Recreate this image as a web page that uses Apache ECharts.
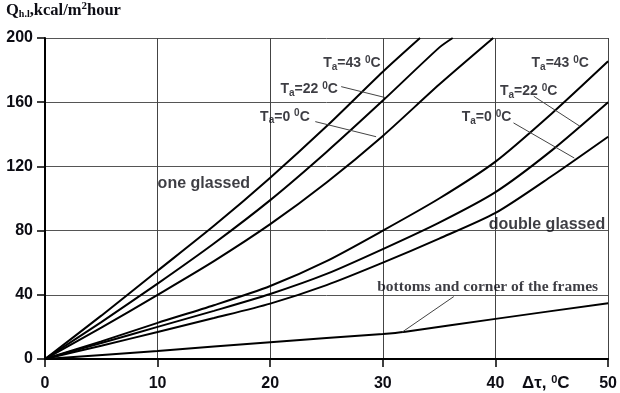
<!DOCTYPE html>
<html>
<head>
<meta charset="utf-8">
<script src="https://cdn.jsdelivr.net/npm/echarts@6/dist/echarts.min.js"></script>
<style>
html,body{margin:0;padding:0;background:#fff;}
#chart{width:620px;height:393px;}
</style>
</head>
<body>
<div id="chart"></div>
<script>
// ---- data ----
const xTicks = [0, 10, 20, 30, 40, 50];
const yTicks = [0, 40, 80, 120, 160, 200];

// one glassed
const oneX43 = [0, 5, 10, 15, 20, 25, 30, 33.3];
const oneY43 = [0, 27, 55, 83, 113, 145, 179, 200];
const oneX22 = [0, 5, 10, 15, 20, 25, 30, 35, 36.2];
const oneY22 = [0, 23, 47, 72, 99, 129, 161, 194, 200];
const oneX0 = [0, 5, 10, 15, 20, 25, 30, 35, 39.8];
const oneY0 = [0, 19.5, 40, 61, 84, 110, 139, 171, 200];

// double glassed
const dblX = [0, 5, 10, 15, 20, 25, 30, 35, 40, 45, 50];
const dblY43 = [0, 11, 22.5, 33.5, 45.5, 61, 80, 100, 123, 153, 185.5];
const dblY22 = [0, 10, 20, 30, 40.5, 53, 68.5, 85, 104, 130, 160];
const dblY0 = [0, 8.3, 16.8, 25.5, 34.5, 46, 60, 75, 91, 114, 138.5];

// bottoms and corner of the frames
const botX = [0, 10, 20, 30, 32, 40, 50];
const botY = [0, 5, 10.5, 15.6, 17, 25, 34.8];

// annotation texts
const tempLabels = ['43', '22', '0'];
const groupLabels = ['one glassed', 'double glassed', 'bottoms and corner of the frames'];

// ---- annotation placement (data coordinates) ----
const oneLabelPos = [[24.7, 184.1], [20.9, 167.9], [19.1, 151.0]];
const dblLabelPos = [[43.2, 184.1], [40.4, 166.6], [37.0, 150.4]];
const groupLabelPos = [[10.0, 109.2], [39.4, 83.6], [29.5, 44.9]];
const pointers = [
  [[26.3, 169.7], [30.2, 162.9]],
  [[24.0, 147.9], [29.4, 138.5]],
  [[43.4, 163.7], [47.5, 145.0]],
  [[41.6, 147.1], [47.0, 125.2]],
  [[36.3, 38.9], [31.7, 16.7]]
];

const SANS = 'Liberation Sans, Arial, sans-serif';
const SERIF = 'Liberation Serif, Times New Roman, serif';
const TXT = '#0d0d14';

function zip(xs, ys) { return xs.map((x, i) => [x, ys[i]]); }
function taText(t) { return '{t|T}{s|a}{t|=' + t + ' }{p|0}{t|C}'; }

const taRich = {
  t: {fontSize: 14, fontFamily: SANS, fontWeight: 'bold', color: TXT, lineHeight: 18},
  s: {fontSize: 10, fontFamily: SANS, fontWeight: 'bold', color: TXT, padding: [7, 0, 0, 0]},
  p: {fontSize: 10, fontFamily: SANS, fontWeight: 'bold', color: TXT, padding: [0, 0, 7, 0]}
};

function curve(name, data) {
  return {
    name: name, type: 'line', data: data, showSymbol: false, symbol: 'none',
    smooth: 0.25, clip: true,
    lineStyle: {color: '#000', width: 2}, silent: true
  };
}

const annData = [];
oneLabelPos.forEach((p, i) => annData.push({value: p, label: {formatter: taText(tempLabels[i]), rich: taRich}}));
dblLabelPos.forEach((p, i) => annData.push({value: p, label: {formatter: taText(tempLabels[i]), rich: taRich}}));
annData.push({value: groupLabelPos[0], label: {formatter: groupLabels[0], fontFamily: SANS, fontWeight: 'bold', fontSize: 16, color: TXT}});
annData.push({value: groupLabelPos[1], label: {formatter: groupLabels[1], fontFamily: SANS, fontWeight: 'bold', fontSize: 16, color: TXT}});
annData.push({value: groupLabelPos[2], label: {formatter: groupLabels[2], fontFamily: SERIF, fontWeight: 'bold', fontSize: 15.5, color: TXT}});

const chart = echarts.init(document.getElementById('chart'), null, {renderer: 'canvas'});
chart.setOption({
  animation: false,
  backgroundColor: '#fff',
  grid: {left: 45, right: 8, top: 38, bottom: 34, containLabel: false},
  xAxis: {
    type: 'value', min: 0, max: 50, interval: 10,
    axisLine: {show: true, onZero: false, lineStyle: {color: '#000', width: 2}},
    axisTick: {show: true, length: 8, lineStyle: {color: '#000', width: 1.5}},
    axisLabel: {margin: 17, fontFamily: SANS, fontWeight: 'bold', fontSize: 16, color: TXT,
      formatter: v => xTicks.indexOf(v) >= 0 ? String(v) : ''},
    splitLine: {show: true, lineStyle: {color: '#444', width: 1}}
  },
  yAxis: {
    type: 'value', min: 0, max: 200, interval: 40,
    axisLine: {show: true, onZero: false, lineStyle: {color: '#000', width: 2}},
    axisTick: {show: true, length: 8, lineStyle: {color: '#000', width: 1.5}},
    axisLabel: {margin: 12, fontFamily: SANS, fontWeight: 'bold', fontSize: 16, color: TXT,
      formatter: v => yTicks.indexOf(v) >= 0 ? String(v) : ''},
    splitLine: {show: true, lineStyle: {color: '#555', width: 1}}
  },
  series: [
    curve('one 43', zip(oneX43, oneY43)),
    curve('one 22', zip(oneX22, oneY22)),
    curve('one 0', zip(oneX0, oneY0)),
    curve('double 43', zip(dblX, dblY43)),
    curve('double 22', zip(dblX, dblY22)),
    curve('double 0', zip(dblX, dblY0)),
    curve('bottoms', zip(botX, botY)),
    {
      name: 'annotations', type: 'scatter', symbolSize: 0, silent: true, clip: false,
      data: annData,
      label: {show: true, position: 'right', distance: 0},
      markLine: {
        silent: true, symbol: ['none', 'none'],
        lineStyle: {color: '#444', width: 1, type: 'solid'},
        label: {show: false},
        data: pointers.map(p => [{coord: p[0]}, {coord: p[1]}])
      }
    }
  ],
  graphic: [
    {
      type: 'text', left: 6, top: 1,
      style: {
        text: '{q|Q}{s|h.l}{q|,kcal/m}{p|2}{q|hour}',
        rich: {
          q: {fontSize: 16.5, fontFamily: SERIF, fontWeight: 'bold', fill: TXT, color: TXT, lineHeight: 20},
          s: {fontSize: 10, fontFamily: SERIF, fontWeight: 'bold', fill: TXT, color: TXT, padding: [8, 0, 0, 0]},
          p: {fontSize: 11, fontFamily: SERIF, fontWeight: 'bold', fill: TXT, color: TXT, padding: [0, 0, 8, 0]}
        }
      }
    },
    {
      type: 'text', left: 522, top: 374,
      style: {
        text: '{t|Δτ, }{p|0}{t|C}',
        rich: {
          t: {fontSize: 17, fontFamily: SANS, fontWeight: 'bold', fill: TXT, color: TXT, lineHeight: 20},
          p: {fontSize: 11, fontFamily: SANS, fontWeight: 'bold', fill: TXT, color: TXT, padding: [0, 0, 8, 0]}
        }
      }
    }
  ]
});
</script>
</body>
</html>
